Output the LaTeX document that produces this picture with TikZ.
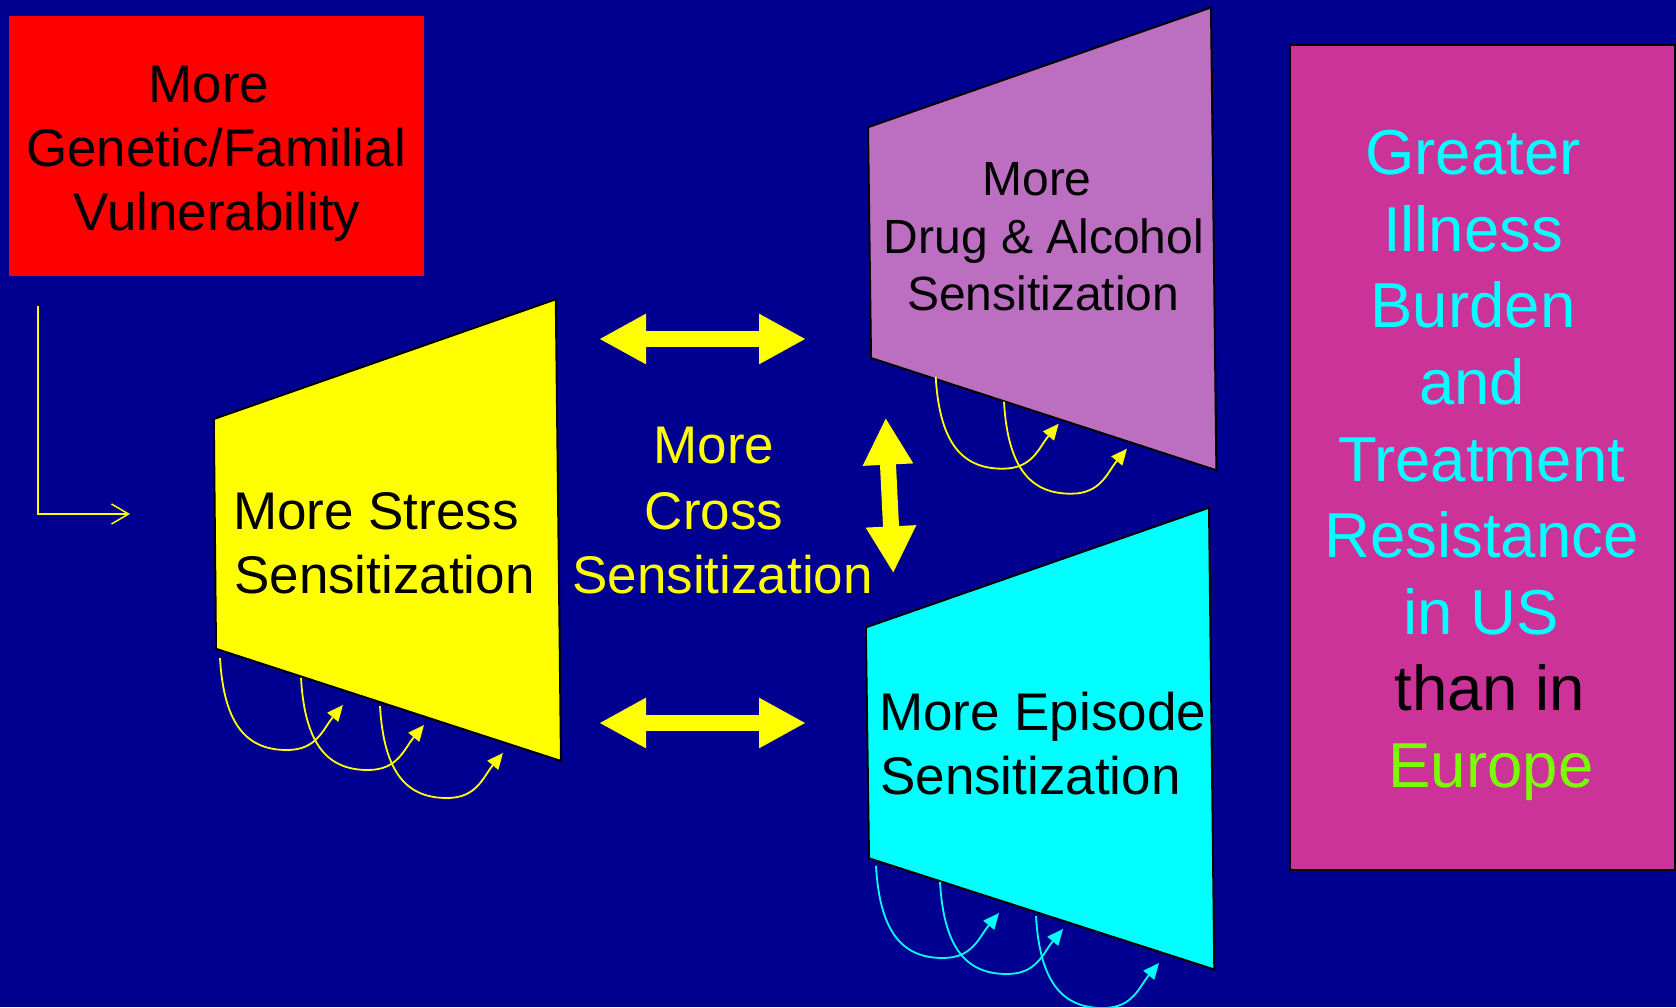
\documentclass[tikz,border=0pt]{standalone}
\usepackage{fontspec}
\setmainfont{Liberation Sans}
\usetikzlibrary{arrows.meta}
\definecolor{bgblue}{RGB}{0,0,144}
\definecolor{boxred}{RGB}{255,0,0}
\definecolor{ayellow}{RGB}{255,255,0}
\definecolor{acyan}{RGB}{0,255,255}
\definecolor{apurple}{RGB}{188,110,192}
\definecolor{amagenta}{RGB}{204,51,153}
\definecolor{agreen}{RGB}{120,255,0}
\begin{document}
\begin{tikzpicture}[x=1pt,y=-1pt,
  lbl/.style={inner sep=0pt, anchor=base, font=\fontsize{53}{64}\selectfont},
  lblL/.style={lbl, anchor=base west},
  mid/.style={inner sep=0pt, anchor=base, font=\fontsize{48}{58}\selectfont},
  big/.style={inner sep=0pt, anchor=base, font=\fontsize{63.5}{76}\selectfont},
  trap/.style={draw=black, line width=2pt, line join=miter},
  curly/.style={line width=1.8pt, -{Triangle[length=16pt,width=14pt]}},
  dbl/.style={draw=ayellow, line width=16pt, {Triangle[length=47pt,width=47pt]}-{Triangle[length=47pt,width=47pt]}},
  elbow/.style={draw=ayellow, line width=1.5pt, -{Straight Barb[length=17pt,width=20pt]}}
]
\fill[bgblue] (0,0) rectangle (1676,1007);
\useasboundingbox (0,0) rectangle (1676,1007);

% red box
\node (redbox) [fill=boxred, inner sep=0pt, minimum width=415.5pt, minimum height=260pt, anchor=north west] at (8.5,16) {};
\node[lbl] (g1) at (209,102) {More};
\node[lbl] (g2) at (216,166.5) {Genetic/Familial};
\node[lbl] (g3) at (217,230) {Vulnerability};

% magenta box
\node (magbox) [fill=amagenta, draw=black, line width=1.5pt, inner sep=0pt, minimum width=385pt, minimum height=825pt, anchor=north west] at (1289,44) {};
\node[big, text=acyan] (m1) at (1473,174.7) {Greater};
\node[big, text=acyan] (m2) at (1473,251.3) {Illness};
\node[big, text=acyan] (m3) at (1473,327.9) {Burden};
\node[big, text=acyan] (m4) at (1472,404.5) {and};
\node[big, text=acyan] (m5) at (1481.5,481.1) {Treatment};
\node[big, text=acyan] (m6) at (1481.5,557.7) {Resistance};
\node[big, text=acyan] (m7) at (1481.5,634.3) {in US};
\node[big, text=black] (m8) at (1490,710.9) {than in};
\node[big, text=agreen] (m9) at (1491,787.5) {Europe};

% trapezoids
\filldraw[trap, fill=ayellow] (213.8,419) -- (555.8,299.3) -- (561,761) -- (216,648.8) -- cycle;
\filldraw[trap, fill=apurple] (868,127.2) -- (1211,7.5) -- (1216.4,470.3) -- (871,358) -- cycle;
\filldraw[trap, fill=acyan] (865.8,627.4) -- (1209,507.7) -- (1214.3,969.5) -- (869,858.3) -- cycle;

% texts in trapezoids
\node[lblL] (s1) at (233,529) {More Stress};
\node[lblL] (s2) at (234,593) {Sensitization};
\node[mid] (d1) at (1037,195.8) {More};
\node[mid] (d2) at (1043.8,253.3) {Drug \& Alcohol};
\node[mid] (d3) at (1043.3,310.3) {Sensitization};
\node[lblL] (e1) at (879,730) {More Episode};
\node[lblL] (e2) at (880,794) {Sensitization};

% cross text
\node[lbl, text=ayellow] (c1) at (714,463.7) {More};
\node[lbl, text=ayellow] (c2) at (714,529) {Cross};
\node[lbl, text=ayellow] (c3) at (722.6,593) {Sensitization};

% double arrows
\coordinate (ha1) at (599,339);
\coordinate (hb1) at (806,339);
\coordinate (ha2) at (599,723);
\coordinate (hb2) at (806,723);
\coordinate (va) at (885.7,417.7);
\coordinate (vb) at (893.3,573.3);
\draw[dbl] (ha1) -- (hb1);
\draw[dbl] (ha2) -- (hb2);
\draw[dbl] (va) -- (vb);

% elbow arrow
\coordinate (la) at (38,306);
\coordinate (lb) at (130,514);
\draw[elbow] (la) |- (lb);

% curly arrows
\foreach \n/\px/\py/\c in {y1/220/658/ayellow, y2/301/678/ayellow, y3/380/706/ayellow,
                     p1/935.7/376.7/ayellow, p2/1004/401.7/ayellow,
                     c1/876/866/acyan, c2/940/882/acyan, c3/1036/916/acyan}{
  \coordinate (cs\n) at (\px,\py);
  \draw[curly, draw=\c] (cs\n) .. controls +(4,70) and +(-38,0) .. ++(67,92)
        .. controls +(30,0) and +(-20,24) .. ++(56,-45);
}
\end{tikzpicture}
\end{document}
